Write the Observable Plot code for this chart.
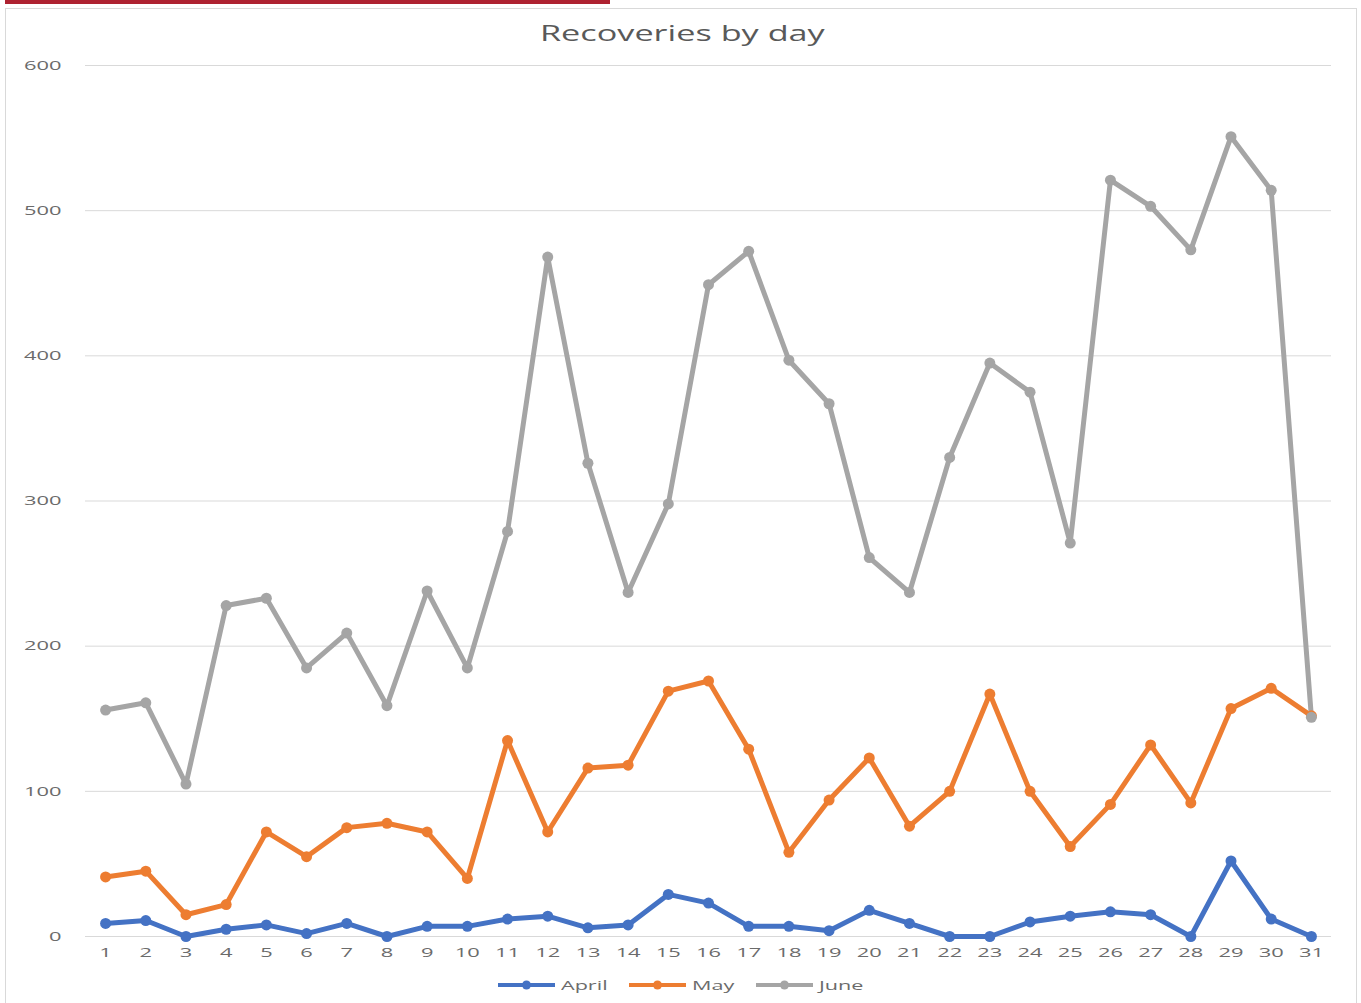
<!DOCTYPE html>
<html>
<head>
<meta charset="utf-8">
<script src="https://cdn.jsdelivr.net/npm/d3@7"></script>
<script src="https://cdn.jsdelivr.net/npm/@observablehq/plot@0.6"></script>
<style>
  html, body { margin: 0; padding: 0; background: #fff; }
  #wrap { position: relative; width: 1361px; height: 1003px; overflow: hidden; font-family: "Open Sans", sans-serif; }
  #redbar { position: absolute; left: 5px; top: 0; width: 605px; height: 4px; background: #AE2231; }
  #frame { position: absolute; left: 5px; top: 8px; width: 1352px; height: 1010px; border: 1px solid #D9D9D9; box-sizing: border-box; }
  #title { position: absolute; left: 2px; width: 1361px; top: 19px; text-align: center; font-size: 21px; color: #595959; }
  #title span { display: inline-block; transform: scaleX(1.63); }
  #chart { position: absolute; left: 0; top: 0; }
  #legend { position: absolute; top: 976px; left: 0px; width: 1361px; display: flex; justify-content: center; font-size: 13.5px; color: #6b6b6b; }
  .item { display: flex; align-items: center; }
  .item span { display: inline-block; transform: scaleX(1.6); transform-origin: 0 50%; margin-left: 5px; }
</style>
</head>
<body>
<div id="wrap">
  <div id="redbar"></div>
  <div id="frame"></div>
  <div id="chart"></div>
  <div id="title"><span>Recoveries by day</span></div>
  <div id="legend"></div>
</div>
<script>
const days = d3.range(1, 32);
const april = [9, 11, 0, 5, 8, 2, 9, 0, 7, 7, 12, 14, 6, 8, 29, 23, 7, 7, 4, 18, 9, 0, 0, 10, 14, 17, 15, 0, 52, 12, 0];
const may = [41, 45, 15, 22, 72, 55, 75, 78, 72, 40, 135, 72, 116, 118, 169, 176, 129, 58, 94, 123, 76, 100, 167, 100, 62, 91, 132, 92, 157, 171, 152];
const june = [156, 161, 105, 228, 233, 185, 209, 159, 238, 185, 279, 468, 326, 237, 298, 449, 472, 397, 367, 261, 237, 330, 395, 375, 271, 521, 503, 473, 551, 514, 151];
const seriesNames = ["April", "May", "June"];
const seriesColors = ["#4472C4", "#ED7D31", "#A5A5A5"];
const yTicks = [0, 100, 200, 300, 400, 500, 600];

const seriesValues = [april, may, june];
const data = [];
seriesNames.forEach((name, i) => {
  days.forEach((d, j) => data.push({ series: name, day: d, value: seriesValues[i][j] }));
});

const chart = Plot.plot({
  width: 1361,
  height: 1003,
  marginLeft: 85,
  marginRight: 30,
  marginTop: 65,
  marginBottom: 67,
  style: { fontFamily: "Open Sans, sans-serif", fontSize: "13.5px", color: "#6b6b6b", background: "transparent" },
  x: { type: "linear", domain: [0.5, 31.5], ticks: days, tickFormat: d => String(d), tickSize: 0, tickPadding: 11, label: null },
  y: { domain: [0, 600], ticks: yTicks, tickSize: 0, tickPadding: 24, label: null },
  color: { domain: seriesNames, range: seriesColors },
  marks: [
    Plot.ruleY(yTicks, { stroke: "#D9D9D9", strokeWidth: 1 }),
    Plot.line(data, { x: "day", y: "value", z: "series", stroke: "series", strokeWidth: 5, strokeLinejoin: "round", strokeLinecap: "round" }),
    Plot.dot(data, { x: "day", y: "value", fill: "series", r: 5.5, stroke: null })
  ]
});
// stretch tick label glyphs horizontally, like the reference
chart.querySelectorAll("g[aria-label$='tick label'] text").forEach(t => {
  t.setAttribute("fill", "#6b6b6b");
  const tr = t.getAttribute("transform");
  if (tr) {
    t.setAttribute("transform", tr + " scale(1.62,1)");
  } else {
    const x = t.getAttribute("x") || 0;
    const y = t.getAttribute("y") || 0;
    if (!isNaN(+x) && !isNaN(+y)) {
      t.setAttribute("transform", `translate(${x},${y}) scale(1.62,1)`);
      t.removeAttribute("x");
      t.removeAttribute("y");
    }
  }
});
document.getElementById("chart").appendChild(chart);

const legend = document.getElementById("legend");
seriesNames.forEach((name, i) => {
  const item = document.createElement("div");
  item.className = "item";
  item.innerHTML = `<svg width="59" height="12"><line x1="1" y1="6" x2="58" y2="6" stroke="${seriesColors[i]}" stroke-width="4"/><circle cx="29.5" cy="6" r="4.5" fill="${seriesColors[i]}"/></svg><span>${name}</span>`;
  legend.appendChild(item);
  const span = item.querySelector("span");
  const w = span.offsetWidth;
  span.style.marginRight = (w * 0.6 + (i < seriesNames.length - 1 ? 21 : 0)) + "px";
});
</script>
</body>
</html>
